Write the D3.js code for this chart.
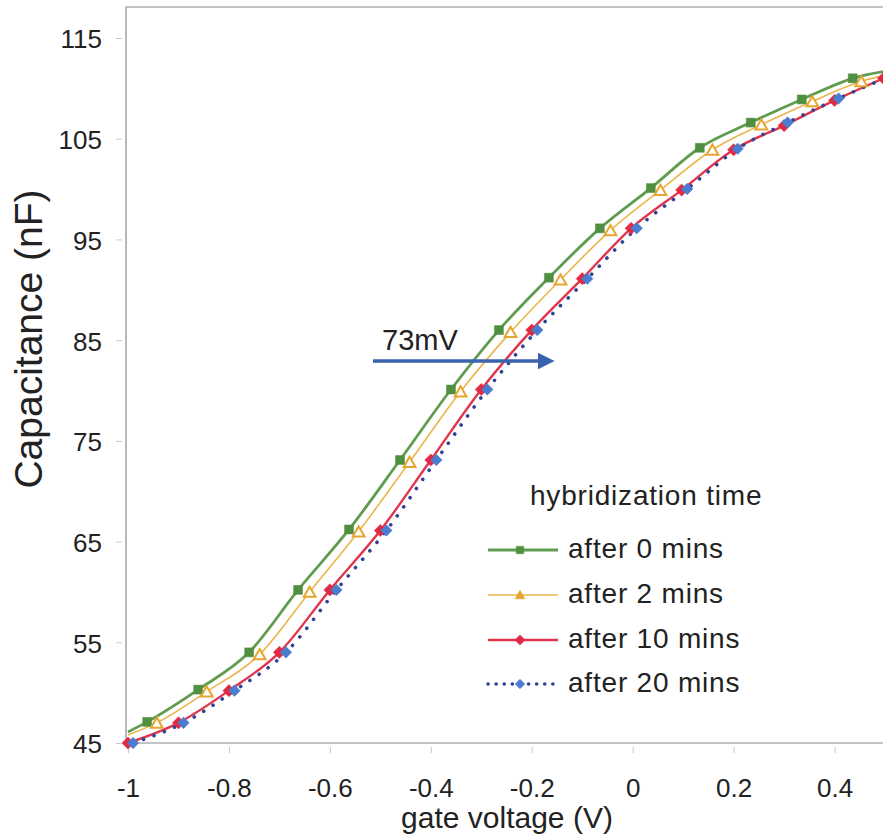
<!DOCTYPE html>
<html>
<head>
<meta charset="utf-8">
<script src="https://cdn.jsdelivr.net/npm/d3@7"></script>
<style>
  body { margin: 0; background: #fff; }
  svg { display: block; font-family: "Liberation Sans", Arial, sans-serif; }
</style>
</head>
<body>
<svg id="chart" width="883" height="837"></svg>
<script>
// data
var xTicks = [-1, -0.8, -0.6, -0.4, -0.2, 0, 0.2, 0.4];
var yTicks = [45, 55, 65, 75, 85, 95, 105, 115];

var seriesNames = ["after 0 mins", "after 2 mins", "after 10 mins", "after 20 mins"];

var x0 = [-1, -0.962, -0.861, -0.760, -0.663, -0.562, -0.461, -0.360, -0.265, -0.166, -0.065, 0.036, 0.133, 0.234, 0.335, 0.436, 0.54];
var y0 = [46.1, 47.1, 50.3, 54.0, 60.2, 66.2, 73.1, 80.1, 86.0, 91.2, 96.1, 100.1, 104.1, 106.6, 108.9, 111.0, 112.0];

var x2 = [-1, -0.943, -0.844, -0.739, -0.640, -0.543, -0.442, -0.341, -0.242, -0.143, -0.044, 0.055, 0.158, 0.255, 0.356, 0.453, 0.56];
var y2 = [45.8, 47.0, 50.1, 53.8, 60.0, 66.0, 72.9, 79.9, 85.8, 91.0, 95.9, 99.9, 103.9, 106.4, 108.7, 110.7, 111.8];

var x10 = [-1, -0.9, -0.8, -0.7, -0.6, -0.5, -0.4, -0.3, -0.2, -0.1, -0.003, 0.097, 0.2, 0.3, 0.4, 0.497];
var y10 = [45, 47.0, 50.2, 54.0, 60.2, 66.1, 73.1, 80.1, 86.0, 91.1, 96.1, 99.9, 103.9, 106.3, 108.8, 111.0];

var x20 = [-0.99, -0.89, -0.789, -0.687, -0.587, -0.488, -0.389, -0.288, -0.189, -0.09, 0.008, 0.108, 0.208, 0.307, 0.408, 0.51];
var y20 = [45, 47.0, 50.2, 54.0, 60.2, 66.1, 73.1, 80.1, 86.0, 91.1, 96.1, 100.0, 104.0, 106.6, 109.0, 111.2];

var svg = d3.select("#chart");

var x = d3.scaleLinear().domain([-1, 0.5]).range([128, 885]);
var y = d3.scaleLinear().domain([45, 115]).range([743, 38]);

// frame: left axis line, top line, bottom axis line
svg.append("path")
  .attr("d", "M883,7H126V743H883")
  .attr("fill", "none")
  .attr("stroke", "#8a8a92")
  .attr("stroke-width", 1.2);

// y axis ticks + labels
var yAxis = svg.append("g")
  .attr("transform", "translate(122,0)")
  .call(d3.axisLeft(y).tickValues(yTicks).tickSize(6).tickPadding(14).tickFormat(function(d){ return String(d); }));
yAxis.select(".domain").remove();
yAxis.selectAll("line").attr("stroke", "#c8c8c8");
yAxis.selectAll("text")
  .attr("dy", "0.38em")
  .style("font-size", "26px")
  .attr("fill", "#222");

// x axis ticks + labels
var xAxis = svg.append("g")
  .attr("transform", "translate(0,747)")
  .call(d3.axisBottom(x).tickValues(xTicks).tickSize(6).tickFormat(function(d){ return String(d); }));
xAxis.select(".domain").remove();
xAxis.selectAll("line").attr("stroke", "#c8c8c8");
xAxis.selectAll("text")
  .attr("dy", null)
  .attr("y", 50)
  .style("font-size", "26px")
  .attr("fill", "#222");

// axis titles
svg.append("text")
  .attr("x", 507).attr("y", 828)
  .attr("text-anchor", "middle")
  .style("font-size", "30px")
  .attr("fill", "#222")
  .text("gate voltage (V)");

svg.append("text")
  .attr("transform", "translate(42,339) rotate(-90)")
  .attr("text-anchor", "middle")
  .style("font-size", "39px")
  .attr("fill", "#222")
  .text("Capacitance (nF)");

// series styles
var series = [
  { xs: x0, ys: y0, line: "#5f9c4f", width: 2.8, dash: null, mark: "#4f8f3f", sym: d3.symbolSquare, size: 80, open: false, from: 1 },
  { xs: x2, ys: y2, line: "#ebb54c", width: 1.6, dash: null, mark: "#e6a52e", sym: d3.symbolTriangle, size: 60, open: true, from: 1 },
  { xs: x10, ys: y10, line: "#e0364c", width: 2.4, dash: null, mark: "#e02a44", sym: d3.symbolDiamond2, size: 95, open: false, from: 0 },
  { xs: x20, ys: y20, line: "#2f4496", width: 3.6, dash: "0.1 11", mark: "#4a7dd0", sym: d3.symbolDiamond2, size: 85, open: false, from: 0 }
];

var line = d3.line().curve(d3.curveMonotoneX);

series.forEach(function(s) {
  var pts = s.xs.map(function(v, i) { return [x(v), y(s.ys[i])]; });
  svg.append("path")
    .attr("d", line(pts))
    .attr("fill", "none")
    .attr("stroke", s.line)
    .attr("stroke-width", s.width)
    .attr("stroke-linecap", s.dash ? "round" : "butt")
    .attr("stroke-dasharray", s.dash);
});

series.forEach(function(s) {
  var pts = s.xs.map(function(v, i) { return [x(v), y(s.ys[i])]; }).slice(s.from);
  svg.append("g").selectAll("path")
    .data(pts)
    .enter()
    .append("path")
      .attr("d", d3.symbol().type(s.sym).size(s.size))
      .attr("transform", function(d) { return "translate(" + d[0] + "," + (d[1] + (s.open ? 1.5 : 0)) + ")"; })
      .attr("fill", s.open ? "#fff" : s.mark)
      .attr("stroke", s.mark)
      .attr("stroke-width", s.open ? 2 : 0.5);
});

// annotation arrow for the 73 mV shift
svg.append("defs").append("marker")
  .attr("id", "arrowHead")
  .attr("viewBox", "0 0 10 10")
  .attr("refX", 2).attr("refY", 5)
  .attr("markerWidth", 5).attr("markerHeight", 6)
  .attr("markerUnits", "strokeWidth")
  .attr("orient", "auto")
  .append("path")
  .attr("d", "M0,0L10,5L0,10z")
  .attr("fill", "#3a63ae");

svg.append("line")
  .attr("x1", 373).attr("y1", 361)
  .attr("x2", 541).attr("y2", 361)
  .attr("stroke", "#3a63ae")
  .attr("stroke-width", 3.4)
  .attr("marker-end", "url(#arrowHead)");

svg.append("text")
  .attr("x", 382).attr("y", 350)
  .style("font-size", "29px")
  .attr("fill", "#222")
  .text("73mV");

// legend
var legend = svg.append("g");
legend.append("text")
  .attr("x", 530).attr("y", 505)
  .style("font-size", "28px")
  .style("letter-spacing", "0.8px")
  .attr("fill", "#222")
  .text("hybridization time");

var legendY = [550, 595, 640, 684];
series.forEach(function(s, i) {
  var ly = legendY[i];
  legend.append("line")
    .attr("x1", 488).attr("x2", 558)
    .attr("y1", ly).attr("y2", ly)
    .attr("stroke", s.line)
    .attr("stroke-width", s.width)
    .attr("stroke-linecap", s.dash ? "round" : "butt")
    .attr("stroke-dasharray", s.dash ? "0.1 8" : null);
  legend.append("path")
    .attr("d", d3.symbol().type(s.sym).size(s.size * 0.7))
    .attr("transform", "translate(520," + (ly + (s.open ? 1 : 0)) + ")")
    .attr("fill", s.mark)
    .attr("stroke", s.mark)
    .attr("stroke-width", 0.5);
  legend.append("text")
    .attr("x", 568).attr("y", ly + 8)
    .style("font-size", "28px")
    .style("letter-spacing", "0.8px")
    .attr("fill", "#222")
    .text(seriesNames[i]);
});
</script>
</body>
</html>
